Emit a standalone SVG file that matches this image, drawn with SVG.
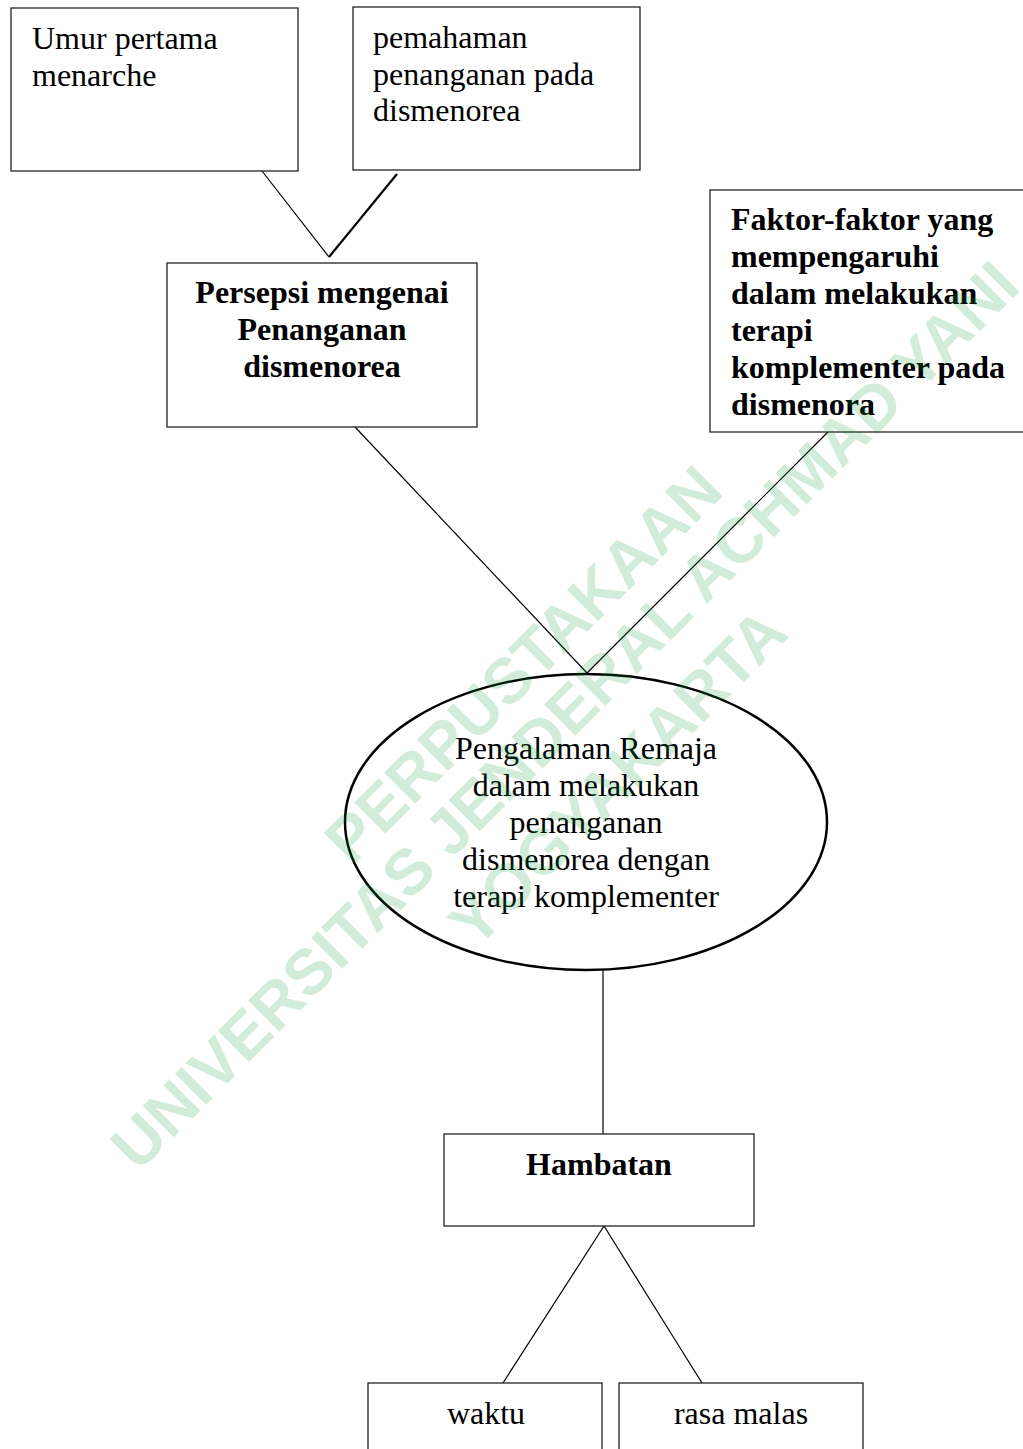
<svg xmlns="http://www.w3.org/2000/svg" width="1023" height="1449" viewBox="0 0 1023 1449">
<style>
.box{fill:#fff;stroke:#222;stroke-width:1.3}
.t{font-family:"Liberation Serif","Times New Roman",serif;font-size:32px;fill:#000}
.b{font-weight:bold}
.c{text-anchor:middle}
.ln{stroke:#000;stroke-width:1.2;fill:none}
.wm{font-family:"Liberation Sans",Arial,sans-serif;font-weight:bold;font-size:64px;fill:#0a9a32;fill-opacity:0.19}
</style>
<rect width="1023" height="1449" fill="#fff"/>
<g id="connectors">
<line class="ln" x1="262" y1="171" x2="329" y2="257"/>
<line class="ln" x1="397" y1="174" x2="329" y2="257" style="stroke-width:2.2"/>
<line class="ln" x1="355" y1="427" x2="587" y2="673"/>
<line class="ln" x1="828" y1="432" x2="587" y2="673"/>
<line class="ln" x1="603" y1="970" x2="603" y2="1134"/>
<line class="ln" x1="604" y1="1226" x2="503" y2="1383"/>
<line class="ln" x1="604" y1="1226" x2="702" y2="1383"/>
</g>
<g id="node-umur">
<rect class="box" x="11" y="8" width="287" height="163"/>
<text class="t" x="32" y="49">Umur pertama</text>
<text class="t" x="32" y="86">menarche</text>
</g>
<g id="node-pemahaman">
<rect class="box" x="353" y="7" width="287" height="163"/>
<text class="t" x="373" y="48">pemahaman</text>
<text class="t" x="373" y="85">penanganan pada</text>
<text class="t" x="373" y="121">dismenorea</text>
</g>
<g id="node-persepsi">
<rect class="box" x="167" y="263" width="310" height="164"/>
<text class="t b c" x="322" y="303">Persepsi mengenai</text>
<text class="t b c" x="322" y="340">Penanganan</text>
<text class="t b c" x="322" y="377">dismenorea</text>
</g>
<g id="node-faktor">
<rect class="box" x="710" y="190" width="330" height="242"/>
<text class="t b" x="731" y="230">Faktor-faktor yang</text>
<text class="t b" x="731" y="267">mempengaruhi</text>
<text class="t b" x="731" y="304">dalam melakukan</text>
<text class="t b" x="731" y="341">terapi</text>
<text class="t b" x="731" y="378">komplementer pada</text>
<text class="t b" x="731" y="415">dismenora</text>
</g>
<g id="node-pengalaman">
<ellipse cx="586" cy="822" rx="241" ry="148" fill="#fff" stroke="#000" stroke-width="2.5"/>
<text class="t c" x="586" y="759">Pengalaman Remaja</text>
<text class="t c" x="586" y="796">dalam melakukan</text>
<text class="t c" x="586" y="833">penanganan</text>
<text class="t c" x="586" y="870">dismenorea dengan</text>
<text class="t c" x="586" y="907">terapi komplementer</text>
</g>
<g id="node-hambatan">
<rect class="box" x="444" y="1134" width="310" height="92"/>
<text class="t b c" x="599" y="1175">Hambatan</text>
</g>
<g id="node-waktu">
<rect class="box" x="368" y="1383" width="234" height="80"/>
<text class="t c" x="486" y="1424">waktu</text>
</g>
<g id="node-malas">
<rect class="box" x="619" y="1383" width="244" height="80"/>
<text class="t c" x="741" y="1424">rasa malas</text>
</g>
<g id="watermark">
<text class="wm" transform="translate(352,867) rotate(-45)">PERPUSTAKAAN</text>
<text class="wm" transform="translate(138,1173) rotate(-45)">UNIVERSITAS JENDERAL ACHMAD YANI</text>
<text class="wm" transform="translate(476,950) rotate(-45)">YOGYAKARTA</text>
</g>
</svg>
